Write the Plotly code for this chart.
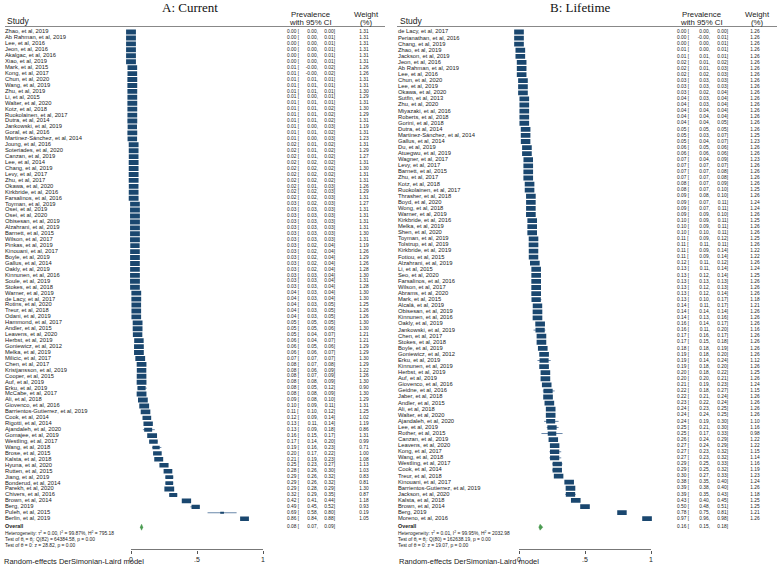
import plotly.graph_objects as go

W, H = 777, 567

# ---------------- Panel A: Current ----------------
A_names = [
    "Zhao, et al, 2019", "Ab Rahman, et al, 2019", "Lee, et al, 2016", "Jeon, et al, 2016",
    "Akalgac, et al, 2016", "Xiao, et al, 2019", "Mark, et al, 2015", "Kong, et al, 2017",
    "Chun, et al, 2020", "Wang, et al, 2019", "Zhu, et al, 2019", "Li, et al, 2015",
    "Walter, et al, 2020", "Kotz, et al, 2018", "Ruokolainen, et al, 2017", "Dutra, et al, 2014",
    "Jankowski, et al, 2019", "Goral, et al, 2016", "Martinez-Sánchez, et al, 2014", "Joung, et al, 2016",
    "Soteriades, et al, 2020", "Canzan, et al, 2019", "Lee, et al, 2014", "Chang, et al, 2019",
    "Levy, et al, 2017", "Zhu, et al, 2017", "Okawa, et al, 2020", "Kirkbride, et al, 2016",
    "Farsalinos, et al, 2016", "Toyman, et al, 2019", "Osei, et al, 2019", "Osei, et al, 2020",
    "Obisesan, et al, 2019", "Alzahrani, et al, 2019", "Barnett, et al, 2015", "Wilson, et al, 2017",
    "Pinkas, et al, 2019", "Kinouani, et al, 2017", "Boyle, et al, 2019", "Gallus, et al, 2014",
    "Oakly, et al, 2019", "Kinnunen, et al, 2016", "Soule, et al, 2019", "Stokes, et al, 2018",
    "Warner, et al, 2019", "de Lacy, et al, 2017", "Rotins, et al, 2020", "Treur, et al, 2018",
    "Odani, et al, 2019", "Hammond, et al, 2017", "Andler, et al, 2015", "Leavens, et al, 2020",
    "Herbst, et al, 2019", "Goniewicz, et al, 2012", "Melka, et al, 2019", "Milicic, et al, 2017",
    "Chen, et al, 2017", "Kristjansson, et al, 2019", "Cooper, et al, 2015", "Auf, et al, 2019",
    "Erku, et al, 2019", "McCabe, et al, 2017", "Ali, et al, 2018", "Giovenco, et al, 2016",
    "Barrientos-Gutierrez, et al, 2019", "Cook, et al, 2014", "Rigotti, et al, 2014", "Ajandaleh, et al, 2020",
    "Gomajee, et al, 2019", "Westling, et al, 2017", "Wang, et al, 2018", "Brose, et al, 2015",
    "Kalsta, et al, 2018", "Hyuna, et al, 2020", "Rutten, et al, 2015", "Jiang, et al, 2019",
    "Bonderud, et al, 2014", "Parekh, et al, 2020", "Chivers, et al, 2016", "Brown, et al, 2014",
    "Berg, 2019", "Puleh, et al, 2015", "Berlin, et al, 2019",
]
A_est = [0.00, 0.00, 0.00, 0.00, 0.00, 0.00, 0.01, 0.01, 0.01, 0.01, 0.01, 0.01, 0.01, 0.01, 0.01, 0.01,
         0.01, 0.01, 0.01, 0.02, 0.02, 0.02, 0.02, 0.02, 0.02, 0.02, 0.02, 0.02, 0.02, 0.03, 0.03, 0.03,
         0.03, 0.03, 0.03, 0.03, 0.03, 0.03, 0.03, 0.03, 0.03, 0.03, 0.03, 0.03, 0.04, 0.04, 0.04, 0.04,
         0.04, 0.05, 0.05, 0.05, 0.06, 0.06, 0.06, 0.07, 0.08, 0.08, 0.08, 0.08, 0.08, 0.08, 0.09, 0.10,
         0.11, 0.12, 0.13, 0.13, 0.16, 0.17, 0.19, 0.20, 0.21, 0.25, 0.28, 0.29, 0.29, 0.29, 0.32, 0.42,
         0.49, 0.69, 0.86]
A_lo = [0.00, 0.00, 0.00, 0.00, 0.00, 0.00, -0.004, -0.004, 0.01, 0.01, 0.01, 0.00, 0.01, 0.01, 0.01, 0.01,
        0.00, 0.01, 0.00, 0.01, 0.01, 0.01, 0.02, 0.02, 0.02, 0.02, 0.01, 0.02, 0.02, 0.02, 0.03, 0.03,
        0.03, 0.03, 0.03, 0.03, 0.02, 0.02, 0.02, 0.02, 0.02, 0.03, 0.03, 0.03, 0.03, 0.03, 0.03, 0.03,
        0.03, 0.05, 0.05, 0.04, 0.04, 0.05, 0.06, 0.07, 0.07, 0.06, 0.07, 0.08, 0.05, 0.08, 0.08, 0.09,
        0.10, 0.09, 0.11, 0.09, 0.15, 0.14, 0.16, 0.17, 0.19, 0.23, 0.26, 0.26, 0.26, 0.28, 0.29, 0.41,
        0.45, 0.58, 0.84]
A_hi = [0.00, 0.01, 0.01, 0.01, 0.01, 0.01, 0.02, 0.02, 0.01, 0.01, 0.01, 0.01, 0.01, 0.02, 0.02, 0.02,
        0.03, 0.02, 0.03, 0.02, 0.02, 0.02, 0.02, 0.02, 0.02, 0.02, 0.03, 0.03, 0.03, 0.03, 0.03, 0.03,
        0.03, 0.03, 0.03, 0.03, 0.04, 0.04, 0.04, 0.04, 0.04, 0.04, 0.04, 0.04, 0.04, 0.04, 0.05, 0.05,
        0.05, 0.05, 0.06, 0.07, 0.07, 0.06, 0.07, 0.07, 0.08, 0.09, 0.09, 0.09, 0.12, 0.09, 0.10, 0.11,
        0.12, 0.14, 0.14, 0.18, 0.17, 0.20, 0.23, 0.22, 0.23, 0.27, 0.30, 0.32, 0.32, 0.29, 0.35, 0.44,
        0.52, 0.80, 0.88]
A_w = [1.31, 1.31, 1.31, 1.31, 1.31, 1.31, 1.26, 1.26, 1.31, 1.31, 1.30, 1.29, 1.31, 1.30, 1.29, 1.31,
       1.19, 1.31, 1.23, 1.31, 1.29, 1.27, 1.31, 1.30, 1.31, 1.31, 1.26, 1.29, 1.31, 1.27, 1.31, 1.31,
       1.31, 1.31, 1.30, 1.31, 1.19, 1.26, 1.29, 1.26, 1.28, 1.30, 1.31, 1.28, 1.30, 1.30, 1.25, 1.26,
       1.26, 1.30, 1.30, 1.21, 1.21, 1.29, 1.29, 1.30, 1.29, 1.22, 1.26, 1.30, 0.90, 1.30, 1.29, 1.31,
       1.25, 1.02, 1.19, 0.86, 1.31, 0.99, 0.71, 1.00, 1.08, 1.13, 1.03, 0.83, 0.81, 1.30, 0.87, 1.18,
       0.93, 0.19, 1.05]
A_overall = [0.08, 0.07, 0.09]
A_het = ["0.00", "99.87%", "795.18"]
A_Q = ["82", "64384.58", "0.00"]
A_Z = ["28.82", "0.00"]

# ---------------- Panel B: Lifetime ----------------
B_names = [
    "de Lacy, et al, 2017", "Perianathan, et al, 2016", "Chang, et al, 2019", "Zhao, et al, 2019",
    "Jackson, et al, 2019", "Jeon, et al, 2016", "Ab Rahman, et al, 2019", "Lee, et al, 2016",
    "Chun, et al, 2020", "Lee, et al, 2019", "Okawa, et al, 2020", "Sutfin, et al, 2013",
    "Zhu, et al, 2020", "Miyazaki, et al, 2016", "Roberts, et al, 2018", "Gorini, et al, 2018",
    "Dutra, et al, 2014", "Martinez-Sánchez, et al, 2014", "Gallus, et al, 2014", "Du, et al, 2019",
    "Atuegwu, et al, 2019", "Wagner, et al, 2017", "Levy, et al, 2017", "Barnett, et al, 2015",
    "Zhu, et al, 2017", "Kotz, et al, 2018", "Ruokolainen, et al, 2017", "Thrasher, et al, 2018",
    "Boyd, et al, 2020", "Wong, et al, 2018", "Warner, et al, 2019", "Kirkbride, et al, 2016",
    "Melka, et al, 2019", "Shen, et al, 2020", "Toyman, et al, 2019", "Tolstrup, et al, 2019",
    "Kirkbride, et al, 2019", "Fotiou, et al, 2015", "Alzahrani, et al, 2019", "Li, et al, 2015",
    "Seo, et al, 2020", "Farsalinos, et al, 2016", "Wilson, et al, 2017", "Abrams, et al, 2020",
    "Mark, et al, 2015", "Alcalá, et al, 2019", "Obisesan, et al, 2019", "Kinnunen, et al, 2016",
    "Oakly, et al, 2019", "Jankowski, et al, 2019", "Chen, et al, 2017", "Stokes, et al, 2018",
    "Boyle, et al, 2019", "Goniewicz, et al, 2012", "Erku, et al, 2019", "Kinnunen, et al, 2019",
    "Herbst, et al, 2019", "Auf, et al, 2019", "Giovenco, et al, 2016", "Geidne, et al, 2016",
    "Jaber, et al, 2018", "Andler, et al, 2015", "Ali, et al, 2018", "Walter, et al, 2020",
    "Ajandaleh, et al, 2020", "Lee, et al, 2019", "Rother, et al, 2015", "Canzan, et al, 2019",
    "Leavens, et al, 2020", "Kong, et al, 2017", "Wang, et al, 2018", "Westling, et al, 2017",
    "Cook, et al, 2014", "Treur, et al, 2018", "Kinouani, et al, 2017", "Barrientos-Gutierrez, et al, 2019",
    "Jackson, et al, 2020", "Kalsta, et al, 2018", "Brown, et al, 2014", "Berg, 2019",
    "Moreno, et al, 2016",
]
B_est = [0.00, 0.00, 0.00, 0.01, 0.01, 0.02, 0.02, 0.02, 0.03, 0.03, 0.03, 0.04, 0.04, 0.04, 0.04, 0.04,
         0.05, 0.05, 0.05, 0.06, 0.06, 0.07, 0.07, 0.07, 0.07, 0.08, 0.08, 0.09, 0.09, 0.09, 0.09, 0.10,
         0.10, 0.10, 0.11, 0.11, 0.11, 0.11, 0.12, 0.13, 0.13, 0.13, 0.13, 0.13, 0.13, 0.14, 0.14, 0.14,
         0.16, 0.16, 0.17, 0.17, 0.18, 0.19, 0.19, 0.19, 0.20, 0.20, 0.21, 0.22, 0.22, 0.23, 0.24, 0.24,
         0.24, 0.25, 0.25, 0.26, 0.27, 0.27, 0.27, 0.29, 0.29, 0.30, 0.38, 0.39, 0.39, 0.43, 0.50, 0.78,
         0.97]
B_lo = [0.00, -0.004, 0.00, 0.00, 0.01, 0.01, 0.01, 0.02, 0.03, 0.03, 0.02, 0.03, 0.03, 0.04, 0.04, 0.04,
        0.05, 0.03, 0.04, 0.05, 0.06, 0.04, 0.07, 0.07, 0.07, 0.07, 0.07, 0.08, 0.07, 0.07, 0.09, 0.09,
        0.09, 0.10, 0.09, 0.11, 0.09, 0.09, 0.11, 0.11, 0.12, 0.13, 0.12, 0.12, 0.10, 0.11, 0.14, 0.13,
        0.14, 0.11, 0.16, 0.15, 0.18, 0.18, 0.14, 0.18, 0.18, 0.20, 0.19, 0.18, 0.21, 0.22, 0.23, 0.24,
        0.19, 0.21, 0.17, 0.24, 0.24, 0.23, 0.23, 0.25, 0.25, 0.27, 0.35, 0.38, 0.35, 0.40, 0.48, 0.75,
        0.96]
B_hi = [0.00, 0.01, 0.01, 0.01, 0.01, 0.02, 0.03, 0.03, 0.03, 0.03, 0.04, 0.04, 0.04, 0.04, 0.04, 0.05,
        0.05, 0.07, 0.07, 0.06, 0.06, 0.09, 0.07, 0.08, 0.08, 0.09, 0.10, 0.10, 0.11, 0.11, 0.10, 0.11,
        0.11, 0.11, 0.12, 0.11, 0.14, 0.14, 0.12, 0.14, 0.14, 0.13, 0.13, 0.14, 0.17, 0.17, 0.14, 0.16,
        0.17, 0.20, 0.17, 0.18, 0.19, 0.20, 0.24, 0.20, 0.22, 0.21, 0.23, 0.27, 0.24, 0.24, 0.25, 0.25,
        0.30, 0.30, 0.33, 0.29, 0.29, 0.32, 0.32, 0.33, 0.32, 0.33, 0.40, 0.40, 0.43, 0.45, 0.51, 0.81,
        0.98]
B_w = [1.26, 1.26, 1.26, 1.26, 1.26, 1.26, 1.26, 1.26, 1.26, 1.26, 1.26, 1.26, 1.26, 1.26, 1.26, 1.26,
       1.26, 1.25, 1.23, 1.26, 1.26, 1.23, 1.26, 1.26, 1.26, 1.26, 1.25, 1.26, 1.24, 1.24, 1.26, 1.25,
       1.26, 1.26, 1.25, 1.26, 1.22, 1.22, 1.26, 1.24, 1.25, 1.26, 1.26, 1.26, 1.18, 1.21, 1.26, 1.26,
       1.26, 1.16, 1.26, 1.26, 1.26, 1.26, 1.12, 1.26, 1.25, 1.26, 1.24, 1.15, 1.26, 1.26, 1.26, 1.26,
       1.10, 1.16, 0.98, 1.22, 1.22, 1.15, 1.14, 1.16, 1.19, 1.23, 1.24, 1.26, 1.18, 1.25, 1.25, 1.21,
       1.26]
B_overall = [0.16, 0.15, 0.18]
B_het = ["0.01", "99.95%", "2032.98"]
B_Q = ["80", "162638.19", "0.00"]
B_Z = ["19.07", "0.00"]

# ---------------- layout constants (pixels) ----------------
FONT = "Liberation Sans, Arial, sans-serif"
SERIF = "Liberation Serif, Times New Roman, serif"
TXT = "#222222"
BOX = "#1a476f"
CI = "#6a88aa"
DIAM = "#4a9a50"
ROW_TOP = 32.0
ROW_BOT = 518.7
AXIS_Y = 549.5

panels = [
    dict(names=A_names, est=A_est, lo=A_lo, hi=A_hi, w=A_w, ov=A_overall, het=A_het, Q=A_Q, Z=A_Z,
         xa="x", x0=131.0, x1=263.0, name_x=5, est_x=287, lo_r=318, hi_r=335, w_c=364,
         prev_c=310, wt_c=366, rule=(5, 385), title="A: Current", title_c=190, foot_x=2),
    dict(names=B_names, est=B_est, lo=B_lo, hi=B_hi, w=B_w, ov=B_overall, het=B_het, Q=B_Q, Z=B_Z,
         xa="x2", x0=519.0, x1=651.0, name_x=398, est_x=677, lo_r=710, hi_r=728, w_c=755,
         prev_c=701, wt_c=757, rule=(397, 777), title="B: Lifetime", title_c=580, foot_x=397),
]

fig = go.Figure()
annotations = []
shapes = []
layout_axes = {}


def txt_trace(xs, ys, texts, pos, size, color=TXT, bold=False):
    return go.Scatter(
        x=xs, y=ys, text=texts, mode="text", textposition=pos,
        textfont=dict(family=FONT, size=size, color=color, weight=700 if bold else 400),
        xaxis="x3", yaxis="y", hoverinfo="skip", showlegend=False, cliponaxis=False,
        marker=dict(size=1),
    )


def ann(x, y, text, size, anchor="center", family=FONT, color=TXT):
    annotations.append(dict(x=x / W, y=1 - y / H, xref="paper", yref="paper", text=text,
                            showarrow=False, xanchor=anchor, yanchor="middle",
                            font=dict(family=family, size=size, color=color)))


for k, p in enumerate(panels):
    n = len(p["names"])
    step = (ROW_BOT - ROW_TOP) / (n - 1)
    ys = [ROW_TOP + i * step for i in range(n)]
    scale = p["x1"] - p["x0"]
    lo_r, hi_r = -0.12, 1.06
    axname = "xaxis" if k == 0 else "xaxis2"
    layout_axes[axname] = dict(
        domain=[(p["x0"] + lo_r * scale) / W, (p["x0"] + hi_r * scale) / W],
        range=[lo_r, hi_r], anchor="free", position=1 - AXIS_Y / H,
        showline=False, showgrid=False, zeroline=False,
        ticks="outside", ticklen=3, tickwidth=1, tickcolor="#555",
        tickvals=[0, 0.5, 1], ticktext=["0", ".5", "1"],
        tickfont=dict(family=FONT, size=7, color=TXT),
    )
    shapes.append(dict(type="line", xref=p["xa"], yref="paper", x0=0, x1=1,
                       y0=1 - AXIS_Y / H, y1=1 - AXIS_Y / H, line=dict(color="#777", width=1)))

    # CI whiskers
    wx, wy = [], []
    for e, l, h, y in zip(p["est"], p["lo"], p["hi"], ys):
        wx += [l, h, None]
        wy += [y, y, None]
    fig.add_trace(go.Scatter(x=wx, y=wy, mode="lines", line=dict(color=CI, width=1),
                             xaxis=p["xa"], yaxis="y", hoverinfo="skip", showlegend=False))
    # weight-scaled boxes
    bx, by = [], []
    for e, wt, y in zip(p["est"], p["w"], ys):
        hw = 4.3 * wt ** 0.5 / scale
        hh = 2.15 * wt ** 0.5
        bx += [e - hw, e + hw, e + hw, e - hw, e - hw, None]
        by += [y - hh, y - hh, y + hh, y + hh, y - hh, None]
    fig.add_trace(go.Scatter(x=bx, y=by, mode="lines", fill="toself", fillcolor=BOX,
                             line=dict(width=0, color=BOX), xaxis=p["xa"], yaxis="y",
                             hoverinfo="skip", showlegend=False))
    # overall diamond
    oy = ROW_BOT + 8.5
    e, l, h = p["ov"]
    fig.add_trace(go.Scatter(x=[l, e, h, e, l], y=[oy, oy - 3, oy, oy + 3, oy], mode="lines",
                             fill="toself", fillcolor=DIAM, line=dict(width=0.5, color=DIAM),
                             xaxis=p["xa"], yaxis="y", hoverinfo="skip", showlegend=False))

    # text columns
    fig.add_trace(txt_trace([p["name_x"]] * n, ys, p["names"], "middle right", 5.8))
    fig.add_trace(txt_trace([p["est_x"]] * (n + 1), ys + [oy], [f"{v:.2f} [" for v in p["est"] + [p["ov"][0]]],
                            "middle right", 4.8))
    fig.add_trace(txt_trace([p["lo_r"]] * (n + 1), ys + [oy], [f"{v:.2f}," for v in p["lo"] + [p["ov"][1]]],
                            "middle left", 4.8))
    fig.add_trace(txt_trace([p["hi_r"]] * (n + 1), ys + [oy], [f"{v:.2f}]" for v in p["hi"] + [p["ov"][2]]],
                            "middle left", 4.8))
    fig.add_trace(txt_trace([p["w_c"]] * n, ys, [f"{v:.2f}" for v in p["w"]], "middle center", 4.8))

    # overall block text
    hx = p["name_x"]
    fig.add_trace(txt_trace([hx], [oy - 1], ["Overall"], "middle right", 5.4, bold=True))
    het = (f"Heterogeneity: τ<sup>2</sup> = {p['het'][0]}, I<sup>2</sup> = {p['het'][1]}, "
           f"H<sup>2</sup> = {p['het'][2]}")
    t1 = f"Test of θ<sub>i</sub> = θ<sub>j</sub>: Q({p['Q'][0]}) = {p['Q'][1]}, p = {p['Q'][2]}"
    t2 = f"Test of θ = 0: z = {p['Z'][0]}, p = {p['Z'][1]}"
    fig.add_trace(txt_trace([hx] * 3, [oy + 7, oy + 13, oy + 19], [het, t1, t2], "middle right", 4.9))

    # headers
    ann(p["name_x"], 21.0, "Study", 8.5, anchor="left")
    ann(p["prev_c"], 14.5, "Prevalence", 7.8)
    ann(p["prev_c"], 22.0, "with 95% CI", 7.8)
    ann(p["wt_c"], 14.5, "Weight", 7.8)
    ann(p["wt_c"], 22.0, "(%)", 7.8)
    ann(p["title_c"], 7.5, p["title"], 13, family=SERIF, color="#111")
    ann(p["foot_x"], 561.5, "Random-effects DerSimonian-Laird model", 7.5, anchor="left")
    shapes.append(dict(type="line", xref="paper", yref="paper", x0=p["rule"][0] / W, x1=p["rule"][1] / W,
                       y0=1 - 26.5 / H, y1=1 - 26.5 / H, line=dict(color="#888", width=1)))

fig.update_layout(
    width=W, height=H, margin=dict(l=0, r=0, t=0, b=0),
    paper_bgcolor="white", plot_bgcolor="rgba(0,0,0,0)", showlegend=False,
    yaxis=dict(domain=[0, 1], range=[H, 0], visible=False, fixedrange=True),
    xaxis3=dict(domain=[0, 1], range=[0, W], visible=False, anchor="y"),
    annotations=annotations, shapes=shapes,
    **layout_axes,
)
fig.write_html("out.html", config={"displayModeBar": False},
               post_script="document.body.style.margin='0px';document.body.style.padding='0px';")
